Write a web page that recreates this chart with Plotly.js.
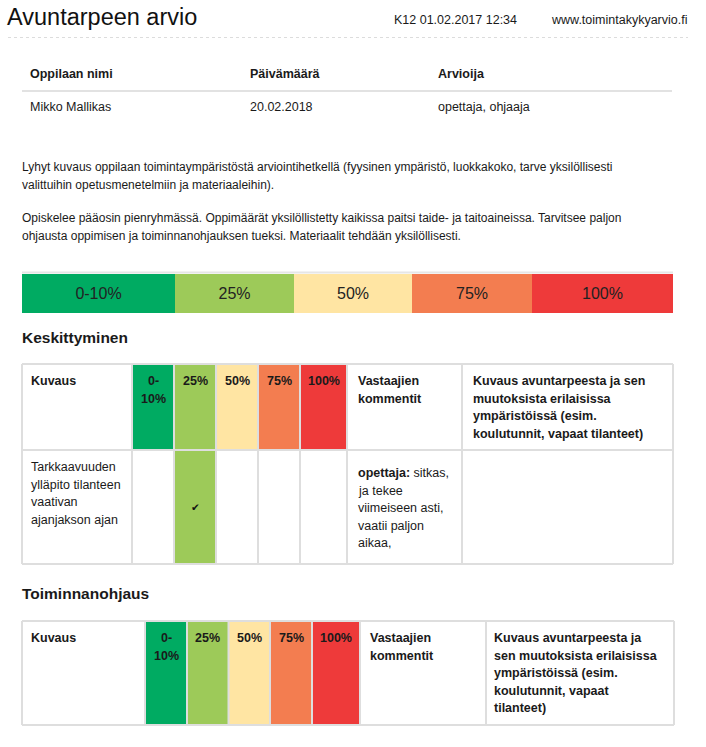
<!DOCTYPE html>
<html>
<head>
<meta charset="utf-8">
<script src="https://cdn.plot.ly/plotly-3.0.1.min.js"></script>
<style>html,body{margin:0;padding:0;background:#fff;overflow:hidden}#chart{width:706px;height:747px}</style>
</head>
<body>
<div id="chart"></div>
<script>
// ---------- content ----------
const pageTitle = "Avuntarpeen arvio";
const stamp = "K12 01.02.2017 12:34";
const site = "www.toimintakykyarvio.fi";
const infoHeaders = ["Oppilaan nimi", "Päivämäärä", "Arvioija"];
const infoValues = ["Mikko Mallikas", "20.02.2018", "opettaja, ohjaaja"];
const descPara1 = ["Lyhyt kuvaus oppilaan toimintaympäristöstä arviointihetkellä (fyysinen ympäristö, luokkakoko, tarve yksilöllisesti",
                   "valittuihin opetusmenetelmiin ja materiaaleihin)."];
const descPara2 = ["Opiskelee pääosin pienryhmässä. Oppimäärät yksilöllistetty kaikissa paitsi taide- ja taitoaineissa. Tarvitsee paljon",
                   "ohjausta oppimisen ja toiminnanohjauksen tueksi. Materiaalit tehdään yksilöllisesti."];
const levels = ["0-10%", "25%", "50%", "75%", "100%"];
const levelColors = ["#00ab62", "#9dca59", "#ffe5a3", "#f37d50", "#ee3a3a"];
const sections = ["Keskittyminen", "Toiminnanohjaus"];
const colKuvaus = "Kuvaus";
const colComments = ["Vastaajien", "kommentit"];
const colDescA = ["Kuvaus avuntarpeesta ja sen", "muutoksista erilaisissa", "ympäristöissä (esim.", "koulutunnit, vapaat tilanteet)"];
const colDescB = ["Kuvaus avuntarpeesta ja", "sen muutoksista erilaisissa", "ympäristöissä (esim.", "koulutunnit, vapaat", "tilanteet)"];
const itemText = ["Tarkkaavuuden", "ylläpito tilanteen", "vaativan", "ajanjakson ajan"];
const itemLevel = "25%";
const itemComment = ["<b>opettaja:</b> sitkas,", "ja tekee", "viimeiseen asti,", "vaatii paljon", "aikaa,"];
const checkMark = "✔";

// ---------- layout helpers ----------
const FONT = "Liberation Sans, Arial, sans-serif";
const TXT = "#1a1a1a";
const GRID = "#dedede";
const LH = 17.5;
const ann = [];
const shapes = [];

function text(x, y, t, size, opts) {
  opts = opts || {};
  ann.push({
    x: x, y: y, xref: "x", yref: "y", text: t, showarrow: false,
    xanchor: opts.anchor || "left", yanchor: "middle",
    borderpad: 0, borderwidth: 0,
    font: {family: opts.family || FONT, size: size, color: opts.color || TXT}
  });
}
function lines(x, y0, arr, size, opts) {
  arr.forEach((t, i) => text(x, y0 + i * LH, t, size, opts));
}
function rect(x0, y0, x1, y1, fill) {
  shapes.push({type: "rect", xref: "x", yref: "y", x0, y0, x1, y1, fillcolor: fill, line: {width: 0}, layer: "below"});
}
function line(x0, y0, x1, y1, color, width, dash) {
  shapes.push({type: "line", xref: "x", yref: "y", x0, y0, x1, y1, line: {color, width, dash: dash || "solid"}, layer: "above"});
}
function levelLabel(l) {
  const i = l.indexOf("-");
  return i >= 0 ? [l.slice(0, i + 1), l.slice(i + 1)] : [l];
}

// ---------- header ----------
text(7, 17, pageTitle, 23.5, {color: "#111"});
text(394, 20, stamp, 12.5);
text(551, 20, site, 12.5);
line(8, 37.5, 688, 37.5, "#dcdcdc", 1, "dot");

// info table
const infoX = [30, 250, 438];
infoHeaders.forEach((h, i) => text(infoX[i], 74, "<b>" + h + "</b>", 12.5));
line(22, 91, 672, 91, "#e2e2e2", 2);
infoValues.forEach((v, i) => text(infoX[i], 107, v, 12.5));

// description
lines(22, 167, descPara1, 12);
lines(22, 218, descPara2, 12);

// ---------- colour scale (bar trace) ----------
const scaleEdges = [22, 175, 294, 412, 532, 673];
line(22, 272.5, 673, 272.5, "#e6e6e6", 2);
const scaleTrace = {
  type: "bar", orientation: "h",
  y: levels.map(() => 293.5),
  x: levels.map((_, i) => scaleEdges[i + 1] - scaleEdges[i]),
  base: levels.map((_, i) => scaleEdges[i]),
  width: 39,
  marker: {color: levelColors, line: {width: 0}},
  text: levels, textposition: "inside", insidetextanchor: "middle",
  textfont: {family: FONT, size: 16, color: "#222"},
  hoverinfo: "skip", showlegend: false, cliponaxis: false
};

// ---------- assessment tables ----------
function table(cfg) {
  const c = cfg.cols;
  const bottom = cfg.bottom;
  const hb = cfg.headerBottom || bottom;
  levels.forEach((l, i) => rect(c[i + 1], cfg.top, c[i + 2], hb, levelColors[i]));
  if (cfg.item) {
    const li = levels.indexOf(itemLevel);
    rect(c[li + 1], hb, c[li + 2], bottom, levelColors[li]);
  }
  line(c[0], cfg.top, c[c.length - 1], cfg.top, GRID, 2);
  line(c[0], bottom, c[c.length - 1], bottom, GRID, 2);
  if (cfg.headerBottom) line(c[0], hb, c[c.length - 1], hb, GRID, 2);
  c.forEach(x => line(x, cfg.top, x, bottom, GRID, 2));
  const y0 = cfg.top + 17;
  text(cfg.textX[0], y0, "<b>" + colKuvaus + "</b>", 12.5);
  levels.forEach((l, i) => lines((c[i + 1] + c[i + 2]) / 2, y0, levelLabel(l).map(s => "<b>" + s + "</b>"), 12.5, {anchor: "center"}));
  lines(cfg.textX[1], y0, colComments.map(s => "<b>" + s + "</b>"), 12.5);
  lines(cfg.textX[2], y0, cfg.desc.map(s => "<b>" + s + "</b>"), 12.5);
  if (cfg.item) {
    lines(cfg.textX[0], hb + 17, itemText, 12.5);
    const li = levels.indexOf(itemLevel);
    const mid = (hb + bottom) / 2;
    text((c[li + 1] + c[li + 2]) / 2, mid, checkMark, 10.5, {anchor: "center", family: "DejaVu Sans", color: "#111"});
    lines(cfg.textX[1], mid - 2 * LH + 1, itemComment, 12.5);
  }
}

text(22, 337, "<b>" + sections[0] + "</b>", 15.5);
table({top: 364, headerBottom: 450, bottom: 564,
       cols: [22, 132, 174, 216, 258, 300, 347, 462, 673],
       textX: [31, 358, 473], desc: colDescA, item: true});

text(22, 593, "<b>" + sections[1] + "</b>", 15.5);
table({top: 621, bottom: 725,
       cols: [22, 145, 187, 228.5, 270, 312, 360, 486, 674],
       textX: [31, 370, 494], desc: colDescB, item: false});

const layout = {
  width: 706, height: 747,
  margin: {l: 0, r: 0, t: 0, b: 0, pad: 0},
  paper_bgcolor: "#ffffff", plot_bgcolor: "#ffffff",
  xaxis: {range: [0, 706], visible: false, fixedrange: true},
  yaxis: {range: [747, 0], visible: false, fixedrange: true},
  showlegend: false,
  bargap: 0,
  shapes: shapes,
  annotations: ann,
  font: {family: FONT}
};

Plotly.newPlot("chart", [scaleTrace], layout, {staticPlot: true, displayModeBar: false});
</script>
</body>
</html>
